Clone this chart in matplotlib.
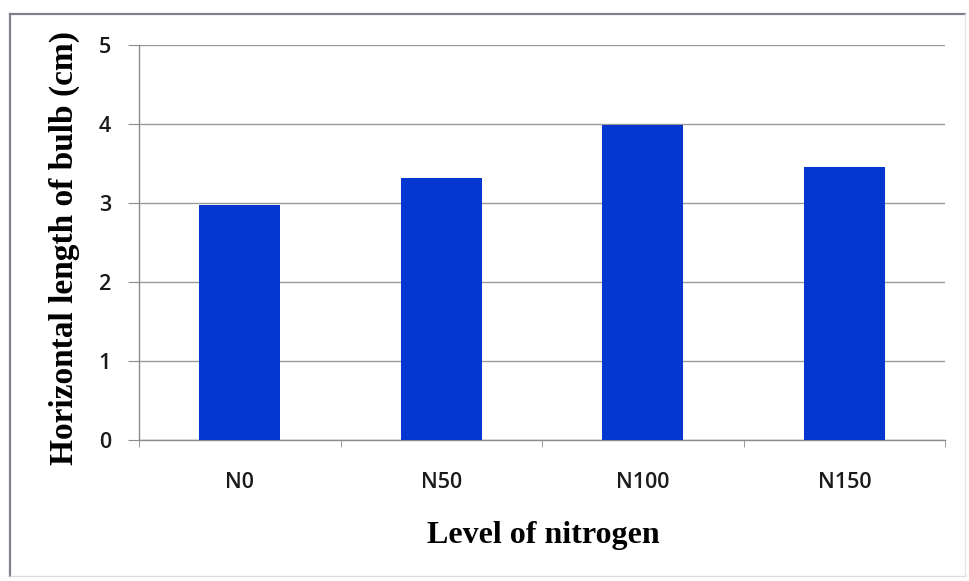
import matplotlib
matplotlib.use("Agg")
import matplotlib.pyplot as plt
from matplotlib.lines import Line2D
import numpy as np

categories = ["N0", "N50", "N100", "N150"]
values = [2.98, 3.32, 3.99, 3.46]
y_ticks = [0, 1, 2, 3, 4, 5]

W, H = 969, 581
fig = plt.figure(figsize=(W / 100, H / 100), dpi=100)
fig.patch.set_facecolor("white")

# chart frame: darker top/left edges, faint right/bottom edges
def frame_line(xs, ys, color, lw):
    fig.add_artist(Line2D([v / W for v in xs], [1 - v / H for v in ys],
                          transform=fig.transFigure, color=color, linewidth=lw))

frame_line([10, 965], [14, 14], "#80808c", 1.6)
frame_line([10, 10], [14, 576], "#80808c", 1.6)
frame_line([965, 965], [14, 576], "#e6e6ea", 1.0)
frame_line([10, 965], [576, 576], "#dcdce2", 1.0)

ax = fig.add_axes([139 / W, 1 - 440 / H, 806 / W, 395 / H])
x = np.arange(len(categories))
ax.bar(x, values, width=0.4, color="#0436D0", zorder=3)

ax.set_xlim(-0.5, len(categories) - 0.5)
ax.set_ylim(0, 5)
ax.set_yticks(y_ticks)
ax.grid(axis="y", color="#9a9a9a", linewidth=1.0, zorder=0)
for s in ["top", "right"]:
    ax.spines[s].set_visible(False)
for s in ["left", "bottom"]:
    ax.spines[s].set_color("#8c8c8c")
    ax.spines[s].set_linewidth(1.0)

ax.set_xticks(x)
ax.set_xticklabels(categories)
ax.set_xticks(np.arange(-0.5, len(categories)), minor=True)
ax.tick_params(axis="x", which="major", length=0, pad=23,
               labelsize=15.5, labelcolor="#1a1a1a")
ax.tick_params(axis="x", which="minor", length=5, color="#8c8c8c")
ax.tick_params(axis="y", length=8, color="#8c8c8c", pad=12,
               labelsize=15.5, labelcolor="#1a1a1a")
for lab in ax.get_xticklabels() + ax.get_yticklabels():
    lab.set_fontfamily("Open Sans")
    lab.set_fontweight("semibold")

fig.text(64 / W, 1 - 248 / H, "Horizontal length of bulb (cm)",
         rotation=90, ha="center", va="center",
         family="Liberation Serif", fontweight="bold", fontsize=24)
fig.text(543 / W, 1 - 535 / H, "Level of nitrogen",
         ha="center", va="center",
         family="Liberation Serif", fontweight="bold", fontsize=23)

fig.savefig("out.png", dpi=100)
